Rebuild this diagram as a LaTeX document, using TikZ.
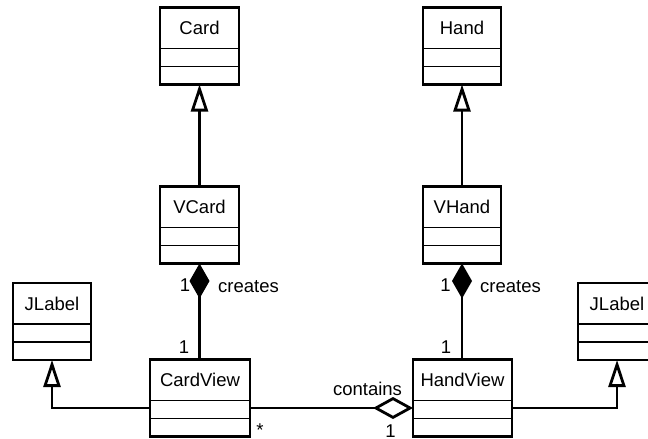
\documentclass[tikz,border=0pt]{standalone}
\usepackage{fontspec}
\setmainfont{Liberation Sans}
\usetikzlibrary{arrows.meta,calc}
\newcommand\umlcls[6]{% name, center x, center y, width, height, label
  \node[clsbox, minimum width=#4pt, minimum height=#5pt] (#1) at (#2,#3) {};
  \node[clsname] (#1-name) at ($(#1.north)+(0,20.5)$) {#6};
  \draw[divider] ($(#1.north west)+(0,41)$) -- ($(#1.north east)+(0,41)$);
  \draw[divider] ($(#1.north west)+(0,59)$) -- ($(#1.north east)+(0,59)$);
}
\tikzset{
  clsbox/.style={draw, line width=2.8pt, inner sep=0pt, outer sep=0pt},
  clsname/.style={font=\fontsize{18.5}{20}\selectfont, inner sep=0pt},
  divider/.style={line width=1.3pt},
  lbl/.style={font=\fontsize{18.5}{20}\selectfont, inner sep=0pt},
  conn/.style={line width=2.8pt},
  gen/.style={conn, -{Triangle[open, length=27pt, width=17pt, line join=miter]}},
  comp/.style={conn, {Diamond[length=35pt, width=20pt]}-},
  agg/.style={conn, -{Diamond[open, length=40pt, width=22pt]}},
}
\begin{document}
\begin{tikzpicture}[x=1pt, y=-1pt]
\useasboundingbox (0,0) rectangle (648,439);
\umlcls{card}{199.5}{46}{79}{77}{Card}
\umlcls{vcard}{199.5}{225}{79}{77}{VCard}
\umlcls{hand}{462}{46}{78}{77}{Hand}
\umlcls{vhand}{462}{225}{78}{77}{VHand}
\umlcls{jlabelL}{52}{321.5}{78}{77}{JLabel}
\umlcls{cardview}{200}{398}{100}{77}{CardView}
\umlcls{handview}{462.5}{398}{99}{77}{HandView}
\umlcls{jlabelR}{617}{321.5}{78}{77}{JLabel}

% generalizations
\draw[gen] (vcard.north) -- (card.south);
\draw[gen] (vhand.north) -- (hand.south);
\draw[gen] ([yshift=-10pt]cardview.west) -| (jlabelL.south);
\draw[gen] ([yshift=-10pt]handview.east) -| (jlabelR.south);

% compositions
\draw[comp] (vcard.south) -- (vcard.south |- cardview.north);
\draw[comp] (vhand.south) -- (vhand.south |- handview.north);

% aggregation
\draw[agg] ([yshift=-10pt]cardview.east) -- ([yshift=-10pt]handview.west);

% labels
\node[lbl] (m1) at (185,285) {1};
\node[lbl, anchor=base west] (c1) at (218,292) {creates};
\node[lbl] (m2) at (184,347) {1};
\node[lbl] (m3) at (445.5,285) {1};
\node[lbl, anchor=base west] (c2) at (480,292) {creates};
\node[lbl] (m4) at (446,347) {1};
\node[lbl, anchor=base] (ct) at (367.5,395) {contains};
\node[lbl, anchor=base] (st) at (260,436) {*};
\node[lbl, anchor=base] (m5) at (390.5,437.5) {1};
\end{tikzpicture}
\end{document}
